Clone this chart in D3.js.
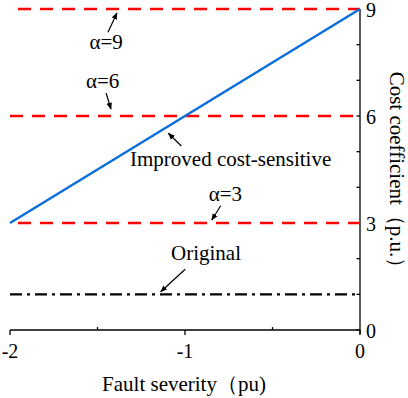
<!DOCTYPE html>
<html>
<head>
<meta charset="utf-8">
<script src="https://cdn.jsdelivr.net/npm/d3@7"></script>
<style>
  body { margin: 0; background: #fff; }
  text { font-family: "Liberation Serif", "Times New Roman", serif; }
</style>
</head>
<body>
<svg id="chart" width="408" height="398"></svg>
<script>
const svg = d3.select("#chart");

// data
const severity = [-2, 0];
const improved = [3, 9];
const original = [1, 1];
const alphas = [9, 6, 3];
const xTicks = [-2, -1, 0];
const xMinor = [-1.5, -0.5];
const yTicks = [0, 3, 6, 9];
const yMinor = [1, 2, 4, 5, 7, 8];

// annotations: label position and arrow from/to, in data units
const notes = [
  { label: "α=9", tx: -1.451, ty: 7.89, from: [-1.44, 8.35], to: [-1.389, 8.89] },
  { label: "α=6", tx: -1.471, ty: 6.785, from: [-1.451, 6.645], to: [-1.423, 6.197] },
  { label: "Improved cost-sensitive", tx: -1.314, ty: 4.6, from: [-1.021, 5.16], to: [-1.095, 5.515], anchor: "start" },
  { label: "α=3", tx: -0.769, ty: 3.617, from: [-0.796, 3.485], to: [-0.847, 3.084] },
  { label: "Original", tx: -0.88, ty: 1.949, from: [-0.999, 1.702], to: [-1.139, 1.074] }
];

const x = d3.scaleLinear().domain([-2, 0]).range([10, 360]);
const y = d3.scaleLinear().domain([0, 9]).range([330, 9]);

svg.append("defs").append("marker")
  .attr("id", "arrow")
  .attr("viewBox", "0 0 10 10")
  .attr("refX", 9).attr("refY", 5)
  .attr("markerWidth", 7).attr("markerHeight", 7)
  .attr("markerUnits", "userSpaceOnUse")
  .attr("orient", "auto")
  .append("path").attr("d", "M0,1 L10,5 L0,9 Z").attr("fill", "#000");

// x axis
const xAxis = svg.append("g").attr("transform", `translate(0,${y(0)})`);
xAxis.append("line").attr("x1", x(-2)).attr("x2", x(0)).attr("stroke", "#000").attr("stroke-width", 1.3);
xAxis.selectAll(".maj").data(xTicks).join("line").attr("class", "maj")
  .attr("x1", d => x(d)).attr("x2", d => x(d)).attr("y1", 0).attr("y2", 5)
  .attr("stroke", "#000").attr("stroke-width", 1.3);
xAxis.selectAll(".min").data(xMinor).join("line").attr("class", "min")
  .attr("x1", d => x(d)).attr("x2", d => x(d)).attr("y1", 0).attr("y2", -3)
  .attr("stroke", "#000").attr("stroke-width", 1.3);
xAxis.selectAll("text").data(xTicks).join("text")
  .attr("x", d => x(d)).attr("y", 28)
  .attr("text-anchor", "middle").attr("font-size", 20)
  .text(d => d);

// y axis (right)
const yAxis = svg.append("g").attr("transform", `translate(${x(0)},0)`);
yAxis.append("line").attr("y1", y(0) + 4).attr("y2", y(9)).attr("stroke", "#000").attr("stroke-width", 1.3);
yAxis.selectAll(".tk").data(yTicks.concat(yMinor)).join("line").attr("class", "tk")
  .attr("y1", d => y(d)).attr("y2", d => y(d)).attr("x1", 0).attr("x2", -3.5)
  .attr("stroke", "#000").attr("stroke-width", 1.3);
yAxis.selectAll("text").data(yTicks).join("text")
  .attr("x", 6).attr("y", d => y(d) + 7.5)
  .attr("font-size", 20)
  .text(d => d);

// alpha lines
svg.selectAll(".alpha").data(alphas).join("line").attr("class", "alpha")
  .attr("x1", x(-2)).attr("x2", x(0))
  .attr("y1", d => y(d)).attr("y2", d => y(d))
  .attr("stroke", "#ff0000").attr("stroke-width", 2.5)
  .attr("stroke-dasharray", "13,9")
  .attr("stroke-dashoffset", d => d === 6 ? 0 : -8);

// original
const line = d3.line().x((d, i) => x(severity[i])).y(d => y(d));
svg.append("path").datum(original).attr("d", line)
  .attr("fill", "none").attr("stroke", "#000").attr("stroke-width", 2.2)
  .attr("stroke-dasharray", "12,5,3,5");

// improved
svg.append("path").datum(improved).attr("d", line)
  .attr("fill", "none").attr("stroke", "#0a6fdc").attr("stroke-width", 2.5);

// annotations
const ann = svg.selectAll(".note").data(notes).join("g").attr("class", "note");
ann.append("text")
  .attr("x", d => x(d.tx)).attr("y", d => y(d.ty))
  .attr("text-anchor", d => d.anchor || "middle")
  .attr("font-size", 21)
  .text(d => d.label);
ann.append("line")
  .attr("x1", d => x(d.from[0])).attr("y1", d => y(d.from[1]))
  .attr("x2", d => x(d.to[0])).attr("y2", d => y(d.to[1]))
  .attr("stroke", "#000").attr("stroke-width", 1.2)
  .attr("marker-end", "url(#arrow)");

// axis titles
svg.append("text").attr("x", 184).attr("y", 391)
  .attr("text-anchor", "middle").attr("font-size", 21)
  .text("Fault severity（pu)");
svg.append("text")
  .attr("transform", `translate(390,175) rotate(90)`)
  .attr("text-anchor", "middle").attr("font-size", 21)
  .text("Cost coefficient（p.u.）");
</script>
</body>
</html>
